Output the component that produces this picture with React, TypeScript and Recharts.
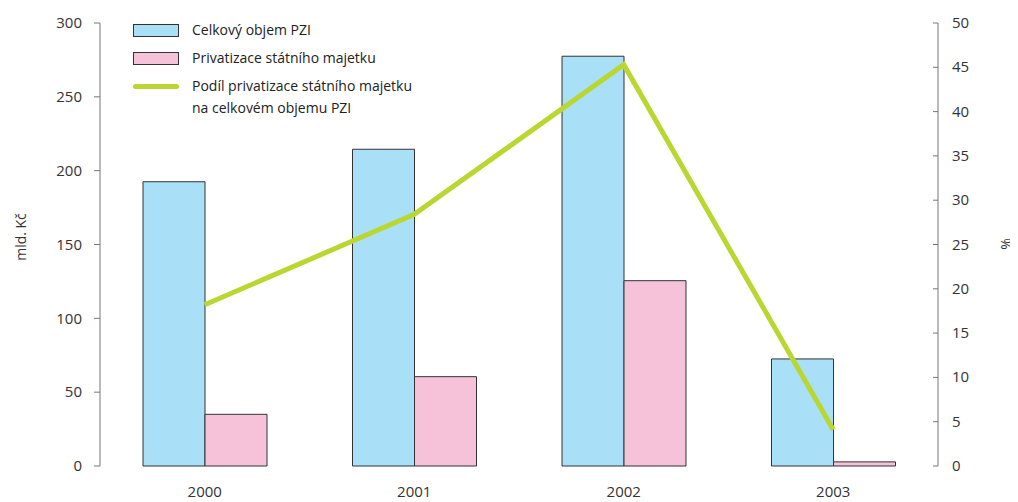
import { ComposedChart, Bar, Line, XAxis, YAxis, Legend } from "recharts";

const years = ["2000", "2001", "2002", "2003"];
const celkovyObjem = [192.5, 214.5, 277.5, 72.5];
const privatizace = [35, 60.5, 125.5, 2.8];
const podil = [18.2, 28.4, 45.3, 4.1];

const leftTicks = [0, 50, 100, 150, 200, 250, 300];
const rightTicks = [0, 5, 10, 15, 20, 25, 30, 35, 40, 45, 50];
const bandTicks = [0, 1, 2, 3, 4];

const legendLabels = [
  ["Celkový objem PZI"],
  ["Privatizace státního majetku"],
  ["Podíl privatizace státního majetku", "na celkovém objemu PZI"],
];

const BLUE = "#aadff8";
const PINK = "#f6c2da";
const GREEN = "#bad631";
const FONT = "'Open Sans', sans-serif";

const data = years.map((y, i) => ({
  year: y,
  band: i + 0.5,
  celkovy: celkovyObjem[i],
  privatizace: privatizace[i],
  podil: podil[i],
}));

const renderLegend = () => (
  <div style={{ fontFamily: FONT, fontSize: 14, color: "#222", lineHeight: "22px" }}>
    {legendLabels.map((lines, i) => (
      <div key={i} style={{ display: "flex", alignItems: "flex-start", marginBottom: 6 }}>
        <div style={{ width: 46, height: 22, display: "flex", alignItems: "center", marginRight: 13 }}>
          {i < 2 ? (
            <div
              style={{
                width: 44,
                height: 11,
                background: i === 0 ? BLUE : PINK,
                border: "1px solid #333",
              }}
            />
          ) : (
            <div style={{ width: 46, height: 5, background: GREEN, borderRadius: 3 }} />
          )}
        </div>
        <div>
          {lines.map((l) => (
            <div key={l}>{l}</div>
          ))}
        </div>
      </div>
    ))}
  </div>
);

const RightTick = (props: any) => {
  const { x, y, payload } = props;
  const axisX = x - 14;
  return (
    <g>
      <line x1={axisX - 5} x2={axisX} y1={y} y2={y} stroke="#777" />
      <text x={x} y={y} dy={5} textAnchor="start" fill="#333" fontSize={15} fontFamily={FONT}>
        {payload.value}
      </text>
    </g>
  );
};

export default function App() {
  return (
    <ComposedChart
      width={1010}
      height={494}
      data={data}
      margin={{ top: 15, right: 0, bottom: 0, left: 0 }}
      barGap={0}
    >
      <XAxis
        xAxisId="band"
        dataKey="band"
        type="number"
        domain={[0, 4]}
        ticks={bandTicks}
        tickFormatter={() => ""}
        height={0}
        tickSize={8}
        stroke="#333"
        allowDataOverflow
      />
      <XAxis
        xAxisId="cat"
        dataKey="year"
        height={36}
        axisLine={false}
        tickLine={false}
        tickSize={0}
        tickMargin={20}
        tick={{ fill: "#333", fontSize: 15, fontFamily: FONT }}
      />
      <YAxis
        yAxisId="left"
        width={92}
        domain={[0, 300]}
        ticks={leftTicks}
        tickSize={6}
        tickMargin={12}
        stroke="#777"
        tick={{ fill: "#333", fontSize: 15, fontFamily: FONT }}
        label={{
          content: () => (
            <text
              x={12}
              y={229}
              transform="rotate(-90 12 229)"
              textAnchor="middle"
              dominantBaseline="central"
              fill="#333"
              fontSize={14}
              fontFamily={FONT}
            >
              mld. Kč
            </text>
          ),
        }}
      />
      <YAxis
        yAxisId="right"
        orientation="right"
        width={80}
        domain={[0, 50]}
        ticks={rightTicks}
        tickSize={6}
        tickMargin={8}
        tickLine={false}
        stroke="#777"
        tick={<RightTick />}
        label={{
          content: () => (
            <text
              x={997}
              y={236}
              transform="rotate(-90 997 236)"
              textAnchor="middle"
              dominantBaseline="central"
              fill="#333"
              fontSize={14}
              fontFamily={FONT}
            >
              %
            </text>
          ),
        }}
      />
      <Legend
        content={renderLegend}
        wrapperStyle={{ top: 11, left: 125, width: 320 }}
        layout="vertical"
        verticalAlign="middle"
        align="center"
      />
      <Bar
        xAxisId="cat"
        yAxisId="left"
        dataKey="celkovy"
        fill={BLUE}
        stroke="#333"
        strokeWidth={1}
        barSize={62}
        isAnimationActive={false}
      />
      <Bar
        xAxisId="cat"
        yAxisId="left"
        dataKey="privatizace"
        fill={PINK}
        stroke="#333"
        strokeWidth={1}
        barSize={62}
        isAnimationActive={false}
      />
      <Line
        xAxisId="cat"
        yAxisId="right"
        dataKey="podil"
        stroke={GREEN}
        strokeWidth={5}
        dot={false}
        isAnimationActive={false}
      />
    </ComposedChart>
  );
}
